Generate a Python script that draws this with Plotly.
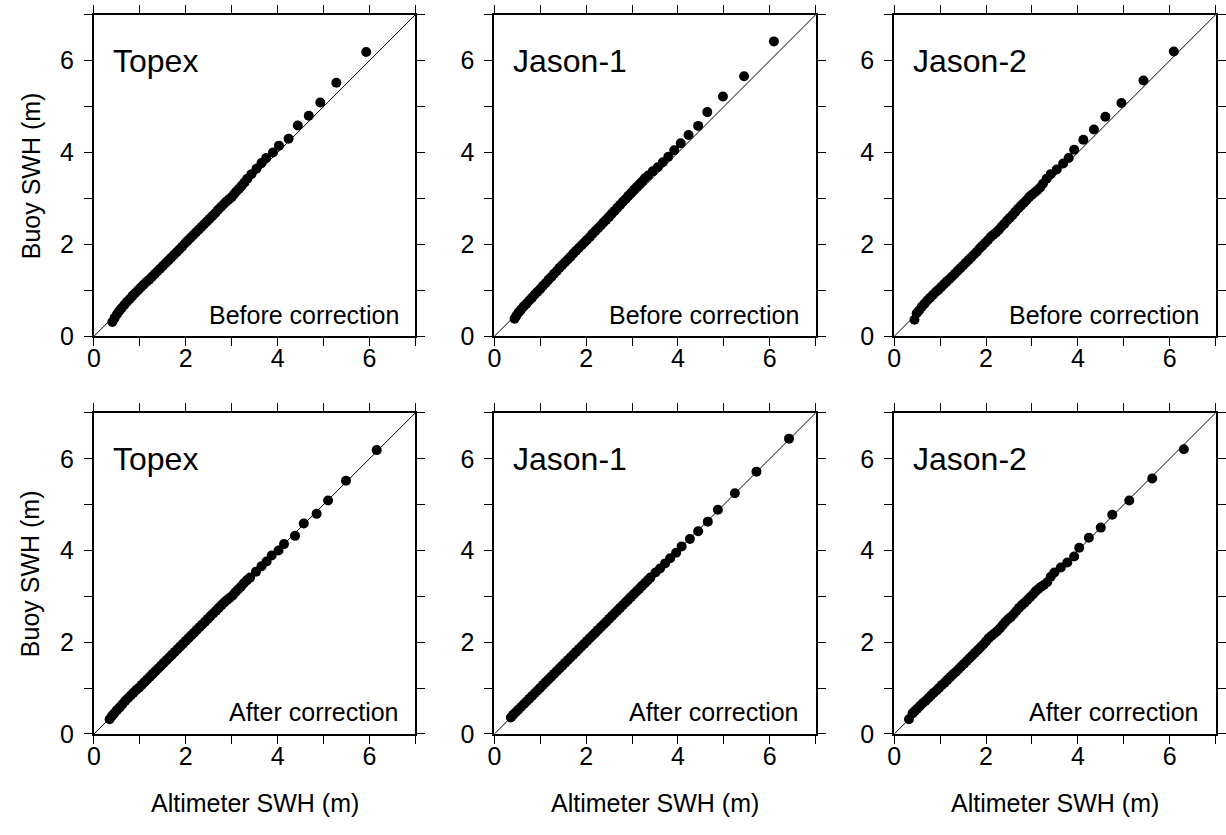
import plotly.graph_objects as go

# ---------------- data ----------------
topex_before_alt = [0.40, 0.45, 0.50, 0.55, 0.60, 0.66, 0.72, 0.78, 0.84, 0.90, 0.96, 1.02, 1.08, 1.14,
                    1.20, 1.26, 1.32, 1.38, 1.44, 1.50, 1.56, 1.62, 1.68, 1.74, 1.80, 1.86, 1.92, 1.98,
                    2.04, 2.10, 2.16, 2.22, 2.28, 2.34, 2.40, 2.46, 2.52, 2.58, 2.64, 2.70, 2.76, 2.82,
                    2.88, 2.94, 3.00, 3.05, 3.10, 3.16, 3.22, 3.28, 3.34,
                    3.43, 3.54, 3.65, 3.75, 3.90, 4.03, 4.24, 4.44, 4.68, 4.93, 5.28, 5.93]
topex_before_buoy = [0.31, 0.40, 0.48, 0.55, 0.61, 0.68, 0.75, 0.81, 0.88, 0.94, 1.00, 1.06, 1.12, 1.18,
                     1.23, 1.29, 1.35, 1.41, 1.47, 1.53, 1.59, 1.65, 1.71, 1.77, 1.83, 1.89, 1.95, 2.02,
                     2.08, 2.14, 2.20, 2.26, 2.32, 2.38, 2.44, 2.50, 2.56, 2.62, 2.68, 2.75, 2.81, 2.87,
                     2.93, 2.98, 3.03, 3.09, 3.15, 3.21, 3.28, 3.35, 3.43,
                     3.53, 3.65, 3.77, 3.88, 4.00, 4.15, 4.30, 4.59, 4.80, 5.09, 5.52, 6.19]

jason1_before_alt = [0.44, 0.48, 0.53, 0.58, 0.64, 0.70, 0.76, 0.82, 0.88, 0.94, 1.00, 1.06, 1.12, 1.18,
                     1.24, 1.30, 1.36, 1.42, 1.48, 1.54, 1.60, 1.66, 1.72, 1.78, 1.84, 1.90, 1.96, 2.02,
                     2.08, 2.14, 2.20, 2.26, 2.32, 2.38, 2.44, 2.50, 2.56, 2.62, 2.68, 2.74, 2.80, 2.86,
                     2.92, 2.98, 3.04, 3.10, 3.16, 3.22, 3.28,
                     3.35, 3.45, 3.56, 3.67, 3.79, 3.92, 4.06, 4.23, 4.44, 4.64, 4.98, 5.44, 6.09]
jason1_before_buoy = [0.38, 0.45, 0.52, 0.58, 0.65, 0.71, 0.78, 0.84, 0.91, 0.97, 1.03, 1.10, 1.16, 1.23,
                      1.29, 1.36, 1.42, 1.49, 1.55, 1.61, 1.67, 1.73, 1.80, 1.86, 1.92, 1.98, 2.04, 2.10,
                      2.16, 2.23, 2.29, 2.35, 2.41, 2.48, 2.54, 2.60, 2.67, 2.73, 2.80, 2.86, 2.93, 2.99,
                      3.06, 3.12, 3.19, 3.25, 3.31, 3.37, 3.44,
                      3.50, 3.59, 3.68, 3.79, 3.91, 4.05, 4.20, 4.38, 4.58, 4.88, 5.22, 5.66, 6.42]

jason2_before_alt = [0.44, 0.49, 0.54, 0.60, 0.66, 0.72, 0.78, 0.84, 0.90, 0.96, 1.02, 1.08, 1.14, 1.20,
                     1.26, 1.32, 1.38, 1.44, 1.50, 1.56, 1.62, 1.68, 1.74, 1.80, 1.86, 1.92, 1.98, 2.04,
                     2.10, 2.16, 2.22, 2.28, 2.34, 2.40, 2.46, 2.52, 2.58, 2.64, 2.70, 2.76, 2.82, 2.88,
                     2.94, 3.00, 3.06, 3.12, 3.18, 3.24,
                     3.32, 3.41, 3.54, 3.68, 3.80, 3.92, 4.12, 4.35, 4.60, 4.95, 5.43, 6.09]
jason2_before_buoy = [0.36, 0.50, 0.56, 0.64, 0.71, 0.78, 0.84, 0.90, 0.96, 1.01, 1.07, 1.13, 1.19, 1.24,
                      1.30, 1.36, 1.42, 1.48, 1.54, 1.60, 1.66, 1.72, 1.78, 1.84, 1.91, 1.97, 2.03, 2.09,
                      2.16, 2.21, 2.26, 2.32, 2.39, 2.45, 2.52, 2.58, 2.64, 2.71, 2.78, 2.84, 2.90, 2.96,
                      3.03, 3.08, 3.13, 3.18, 3.24, 3.32,
                      3.43, 3.53, 3.63, 3.76, 3.88, 4.06, 4.28, 4.50, 4.78, 5.08, 5.57, 6.20]

topex_after_alt = [0.34, 0.39, 0.44, 0.50, 0.56, 0.62, 0.68, 0.74, 0.80, 0.86, 0.92, 0.98, 1.04, 1.10,
                   1.16, 1.22, 1.28, 1.34, 1.40, 1.46, 1.52, 1.58, 1.64, 1.70, 1.76, 1.82, 1.88, 1.94,
                   2.00, 2.06, 2.12, 2.18, 2.24, 2.30, 2.36, 2.42, 2.48, 2.54, 2.60, 2.66, 2.72, 2.78,
                   2.84, 2.90, 2.96, 3.02, 3.08, 3.14, 3.20, 3.26, 3.33,
                   3.40, 3.53, 3.65, 3.76, 3.87, 4.02, 4.14, 4.38, 4.57, 4.85, 5.10, 5.49, 6.16]
topex_after_buoy = [0.32, 0.39, 0.45, 0.52, 0.58, 0.65, 0.72, 0.78, 0.84, 0.90, 0.96, 1.01, 1.07, 1.13,
                    1.19, 1.25, 1.31, 1.37, 1.43, 1.49, 1.55, 1.61, 1.67, 1.73, 1.79, 1.85, 1.91, 1.97,
                    2.03, 2.09, 2.15, 2.21, 2.27, 2.33, 2.39, 2.45, 2.51, 2.57, 2.63, 2.69, 2.75, 2.81,
                    2.87, 2.92, 2.97, 3.02, 3.09, 3.15, 3.21, 3.28, 3.35,
                    3.41, 3.54, 3.66, 3.76, 3.89, 4.00, 4.14, 4.32, 4.59, 4.80, 5.09, 5.52, 6.19]

jason1_after_alt = [0.36, 0.41, 0.46, 0.52, 0.58, 0.64, 0.70, 0.76, 0.82, 0.88, 0.94, 1.00, 1.06, 1.12,
                    1.18, 1.24, 1.30, 1.36, 1.42, 1.48, 1.54, 1.60, 1.66, 1.72, 1.78, 1.84, 1.90, 1.96,
                    2.02, 2.08, 2.14, 2.20, 2.26, 2.32, 2.38, 2.44, 2.50, 2.56, 2.62, 2.68, 2.74, 2.80,
                    2.86, 2.92, 2.98, 3.04, 3.10, 3.16, 3.22, 3.28, 3.34,
                    3.40, 3.51, 3.61, 3.72, 3.83, 3.96, 4.08, 4.26, 4.44, 4.65, 4.87, 5.24, 5.71, 6.42]
jason1_after_buoy = [0.36, 0.42, 0.47, 0.53, 0.59, 0.65, 0.71, 0.77, 0.83, 0.89, 0.95, 1.01, 1.07, 1.13,
                     1.19, 1.25, 1.31, 1.37, 1.43, 1.49, 1.55, 1.61, 1.67, 1.73, 1.79, 1.85, 1.91, 1.97,
                     2.03, 2.09, 2.15, 2.21, 2.27, 2.33, 2.39, 2.45, 2.51, 2.57, 2.63, 2.69, 2.75, 2.81,
                     2.87, 2.93, 2.99, 3.05, 3.11, 3.17, 3.23, 3.29, 3.35,
                     3.41, 3.52, 3.61, 3.72, 3.83, 3.95, 4.09, 4.25, 4.42, 4.63, 4.89, 5.25, 5.72, 6.44]

jason2_after_alt = [0.32, 0.40, 0.45, 0.50, 0.56, 0.62, 0.68, 0.74, 0.80, 0.86, 0.92, 0.98, 1.04, 1.10,
                    1.16, 1.22, 1.28, 1.34, 1.40, 1.46, 1.52, 1.58, 1.64, 1.70, 1.76, 1.82, 1.88, 1.94,
                    2.00, 2.06, 2.12, 2.18, 2.24, 2.30, 2.36, 2.42, 2.48, 2.54, 2.60, 2.66, 2.72, 2.78,
                    2.84, 2.90, 2.96, 3.02, 3.08, 3.14, 3.20, 3.26,
                    3.33, 3.41, 3.49, 3.63, 3.77, 3.92, 4.03, 4.24, 4.50, 4.75, 5.12, 5.62, 6.31]
jason2_after_buoy = [0.32, 0.45, 0.50, 0.55, 0.61, 0.67, 0.72, 0.78, 0.84, 0.90, 0.95, 1.01, 1.07, 1.12,
                     1.18, 1.24, 1.30, 1.35, 1.41, 1.47, 1.53, 1.59, 1.65, 1.71, 1.77, 1.83, 1.89, 1.95,
                     2.02, 2.09, 2.14, 2.19, 2.24, 2.30, 2.37, 2.44, 2.50, 2.55, 2.61, 2.68, 2.75, 2.81,
                     2.86, 2.92, 2.98, 3.04, 3.11, 3.16, 3.21, 3.25,
                     3.31, 3.43, 3.52, 3.63, 3.74, 3.87, 4.06, 4.28, 4.50, 4.78, 5.09, 5.57, 6.21]

satellites = ["Topex", "Jason-1", "Jason-2"]
row_labels = ["Before correction", "After correction"]
axis_range = [0, 7]
major_ticks = [0, 2, 4, 6]
major_text = ["0", "2", "4", "6"]
minor_ticks = [1, 3, 5, 7]
x_title = "Altimeter SWH (m)"
y_title = "Buoy SWH (m)"

# ---------------- figure ----------------
FONT = "Liberation Sans, Arial, Helvetica, sans-serif"
W, H = 1226, 835

panel_data = [
    (topex_before_alt, topex_before_buoy), (jason1_before_alt, jason1_before_buoy),
    (jason2_before_alt, jason2_before_buoy),
    (topex_after_alt, topex_after_buoy), (jason1_after_alt, jason1_after_buoy),
    (jason2_after_alt, jason2_after_buoy),
]

# panel frames in pixels (left, right) and (top, bottom)
col_px = [(88, 413), (493, 818), (897.5, 1222.5)]
row_px = [(15, 342), (420, 746.5)]
xdom = [(a / W, b / W) for a, b in col_px]
ydom = [(1 - b / H, 1 - a / H) for a, b in row_px]

fig = go.Figure()


def axis_style(**kw):
    d = dict(
        range=axis_range, tickmode="array", tickvals=major_ticks, ticktext=major_text,
        ticks="outside", ticklen=8, tickwidth=1.4, tickcolor="black",
        showline=True, linewidth=2, linecolor="black", mirror="allticks",
        showgrid=False, zeroline=False, fixedrange=True,
        tickfont=dict(family=FONT, size=25, color="black"),
        minor=dict(tickmode="array", tickvals=minor_ticks, ticks="outside", ticklen=8,
                   tickwidth=1.4, tickcolor="black", showgrid=False),
    )
    d.update(kw)
    return d


annotations = []
for i, (xs, ys) in enumerate(panel_data):
    r, c = divmod(i, 3)
    k = i + 1
    xa = "x" if k == 1 else f"x{k}"
    ya = "y" if k == 1 else f"y{k}"
    fig.add_trace(go.Scatter(x=axis_range, y=axis_range, mode="lines",
                             line=dict(color="black", width=1), xaxis=xa, yaxis=ya,
                             hoverinfo="skip", showlegend=False))
    fig.add_trace(go.Scatter(x=xs, y=ys, mode="markers",
                             marker=dict(color="black", size=10, line=dict(width=0)),
                             xaxis=xa, yaxis=ya, showlegend=False))
    xkey = "xaxis" if k == 1 else f"xaxis{k}"
    ykey = "yaxis" if k == 1 else f"yaxis{k}"
    fig.layout[xkey] = axis_style(domain=xdom[c], anchor=ya, ticklabelstandoff=-9)
    fig.layout[ykey] = axis_style(domain=ydom[r], anchor=xa, ticklabelstandoff=5)
    annotations.append(dict(text=satellites[c], xref=xa, yref=ya, x=0.36, y=6.0,
                            xanchor="left", yanchor="middle", showarrow=False,
                            font=dict(family=FONT, size=32, color="black")))
    annotations.append(dict(text=row_labels[r], xref=xa, yref=ya, x=6.68, y=0.47,
                            xanchor="right", yanchor="middle", showarrow=False,
                            font=dict(family=FONT, size=25, color="black")))

for c in range(3):
    annotations.append(dict(text=x_title, xref="paper", yref="paper",
                            x=(xdom[c][0] + xdom[c][1]) / 2, y=1 - 817 / H,
                            xanchor="center", yanchor="middle", showarrow=False,
                            font=dict(family=FONT, size=25, color="black")))
for r in range(2):
    annotations.append(dict(text=y_title, xref="paper", yref="paper",
                            x=24 / W, y=(ydom[r][0] + ydom[r][1]) / 2, textangle=-90,
                            xanchor="center", yanchor="middle", showarrow=False,
                            font=dict(family=FONT, size=25, color="black")))

fig.update_layout(
    width=W, height=H, margin=dict(l=0, r=0, t=0, b=0),
    paper_bgcolor="white", plot_bgcolor="white", showlegend=False,
    annotations=annotations,
)

fig.write_html("out.html")
